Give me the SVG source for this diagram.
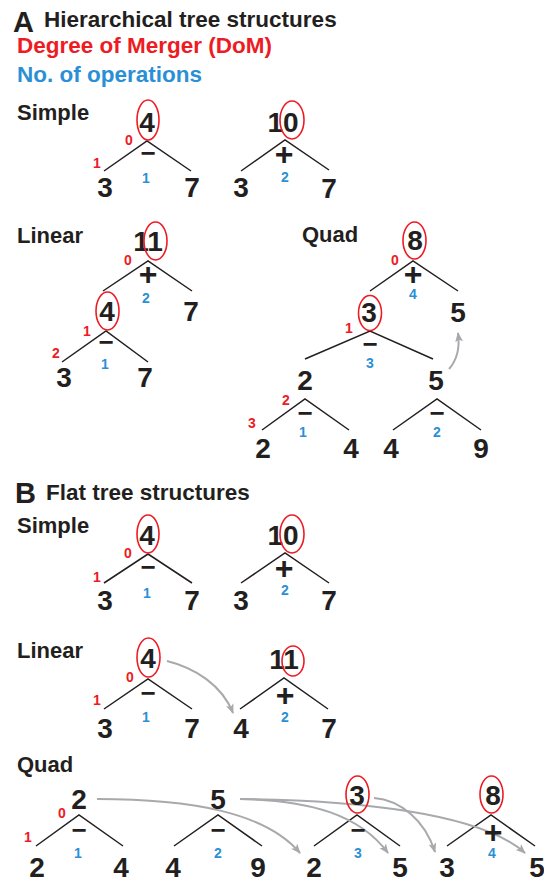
<svg xmlns="http://www.w3.org/2000/svg" width="544" height="881" viewBox="0 0 544 881">
<style>
text{font-family:"Liberation Sans",Arial,sans-serif;font-weight:bold}
.d{font-size:28px;fill:#231f20;text-anchor:middle}
.r{font-size:14px;fill:#ed1c24;text-anchor:middle}
.b{font-size:14px;fill:#2b8fd6;text-anchor:middle}
.mi{font-size:26px;fill:#231f20;text-anchor:middle;dominant-baseline:central}
.pl{font-size:32px;fill:#231f20;text-anchor:middle;dominant-baseline:central}
.lab{font-size:22px;fill:#231f20}
.big{font-size:29px;fill:#231f20}
.hd{font-size:22.5px;fill:#231f20}
.e{fill:none;stroke:#ed1c24;stroke-width:1.6}
.l{stroke:#231f20;stroke-width:1.5;fill:none}
.a{stroke:#a7a9ac;stroke-width:2;fill:none;marker-end:url(#ah)}
</style>
<defs>
<marker id="ah" markerUnits="userSpaceOnUse" markerWidth="12" markerHeight="10" refX="9" refY="4" orient="auto">
<path d="M0,0 L10,4 L0,8 L2.5,4 z" fill="#a7a9ac"/>
</marker>
</defs>
<rect width="544" height="881" fill="#fff"/>

<g id="headings">
<text class="big" x="13" y="32">A</text>
<text class="hd" x="44" y="27">Hierarchical tree structures</text>
<text class="hd" x="17" y="53" style="fill:#ed1c24">Degree of Merger (DoM)</text>
<text class="hd" x="17" y="82" style="fill:#2b8fd6">No. of operations</text>
<text class="lab" x="17" y="120">Simple</text>
<text class="lab" x="17" y="243">Linear</text>
<text class="lab" x="302" y="242">Quad</text>
<text class="big" x="15" y="503">B</text>
<text class="hd" x="46" y="500">Flat tree structures</text>
<text class="lab" x="17" y="533">Simple</text>
<text class="lab" x="17" y="658">Linear</text>
<text class="lab" x="17" y="772">Quad</text>
</g>

<g id="connectors">
<!-- A simple -->
<path class="l" d="M104,171 L147,141 L191,171"/>
<path class="l" d="M241,171 L285,140 L329,170"/>
<!-- A linear -->
<path class="l" d="M103,291 L148,261 L192,291"/>
<path class="l" d="M62,362 L106,331 L148,362"/>
<!-- A quad -->
<path class="l" d="M370,291 L413,261 L458,291"/>
<path class="l" d="M305,359 L370,331 L433,359"/>
<path class="l" d="M262,430 L305,399 L349,430"/>
<path class="l" d="M393,430 L437,399 L481,430"/>
<path class="a" d="M449,369 C457,360 460,348 458,333"/>
<!-- B simple -->
<path class="l" d="M104,583 L148,554 L192,583"/>
<path class="l" d="M241,583 L285,553 L329,583"/>
<!-- B linear -->
<path class="l" d="M104,709 L148,679 L192,709"/>
<path class="l" d="M240,709 L284,678 L328,709"/>
<path class="a" d="M167,661 C195,668 222,685 233,713"/>
<!-- B quad -->
<path class="l" d="M36,846 L79,815 L123,846"/>
<path class="l" d="M174,846 L218,815 L262,846"/>
<path class="l" d="M314,846 L357,815 L400,846"/>
<path class="l" d="M447,846 L491,815 L535,846"/>
<path class="a" d="M97,799 C190,799 265,812 300,853"/>
<path class="a" d="M240,799 C310,800 360,815 388,853"/>
<path class="a" d="M240,799 C350,800 480,812 525,853"/>
<path class="a" d="M374,798 C400,800 425,820 435,852"/>
</g>

<g id="A-simple-1">
<text class="d" x="147" y="132">4</text><ellipse class="e" cx="148" cy="120" rx="11" ry="20"/>
<text class="mi" x="148" y="153">−</text>
<text class="r" x="129" y="145">0</text><text class="r" x="97" y="168">1</text><text class="b" x="146" y="183">1</text>
<text class="d" x="105" y="197">3</text><text class="d" x="192" y="197">7</text>
</g>
<g id="A-simple-2">
<text class="d" x="283" y="132">10</text><ellipse class="e" cx="292" cy="120" rx="12" ry="19"/>
<text class="pl" x="284" y="154">+</text>
<text class="b" x="285" y="182">2</text>
<text class="d" x="241" y="197">3</text><text class="d" x="329" y="198">7</text>
</g>

<g id="A-linear">
<text class="d" x="148" y="251">11</text><ellipse class="e" cx="155.5" cy="241" rx="11.5" ry="19"/>
<text class="pl" x="148" y="274">+</text>
<text class="r" x="128" y="265">0</text><text class="b" x="146" y="303">2</text>
<text class="d" x="191" y="321">7</text>
<text class="d" x="107" y="321">4</text><ellipse class="e" cx="107.5" cy="311" rx="11.5" ry="19"/>
<text class="mi" x="106" y="342">−</text>
<text class="r" x="87" y="336">1</text><text class="r" x="56" y="358">2</text><text class="b" x="105" y="369">1</text>
<text class="d" x="64" y="387">3</text><text class="d" x="145" y="387">7</text>
</g>

<g id="A-quad">
<text class="d" x="415" y="250">8</text><ellipse class="e" cx="414.5" cy="240.5" rx="11.5" ry="18.5"/>
<text class="pl" x="413" y="274">+</text>
<text class="r" x="395" y="265">0</text><text class="b" x="413" y="299">4</text>
<text class="d" x="369" y="322">3</text><ellipse class="e" cx="370" cy="313" rx="11.5" ry="17.5"/>
<text class="d" x="458" y="322">5</text>
<text class="mi" x="370" y="344">−</text>
<text class="r" x="349" y="333">1</text><text class="b" x="370" y="368">3</text>
<text class="d" x="305" y="390">2</text><text class="d" x="436" y="390">5</text>
<text class="mi" x="305" y="413">−</text>
<text class="r" x="286" y="405">2</text><text class="r" x="252" y="428">3</text><text class="b" x="303" y="437">1</text>
<text class="d" x="263" y="458">2</text><text class="d" x="351" y="458">4</text>
<text class="mi" x="437" y="413">−</text>
<text class="b" x="437" y="437">2</text>
<text class="d" x="391" y="458">4</text><text class="d" x="481" y="458">9</text>
</g>

<g id="B-simple-1">
<text class="d" x="147" y="545">4</text><ellipse class="e" cx="148" cy="534" rx="11" ry="19"/>
<text class="mi" x="148" y="567">−</text>
<text class="r" x="128" y="558">0</text><text class="r" x="97" y="582">1</text><text class="b" x="147" y="598">1</text>
<text class="d" x="105" y="610">3</text><text class="d" x="192" y="610">7</text>
</g>
<g id="B-simple-2">
<text class="d" x="283" y="545">10</text><ellipse class="e" cx="292" cy="534" rx="12" ry="19"/>
<text class="pl" x="284" y="568">+</text>
<text class="b" x="285" y="595">2</text>
<text class="d" x="241" y="610">3</text><text class="d" x="329" y="610">7</text>
</g>

<g id="B-linear-1">
<text class="d" x="148" y="668">4</text><ellipse class="e" cx="148.5" cy="657.5" rx="11.5" ry="19.5"/>
<text class="mi" x="148" y="693">−</text>
<text class="r" x="130" y="682">0</text><text class="r" x="97" y="705">1</text><text class="b" x="146" y="722">1</text>
<text class="d" x="105" y="738">3</text><text class="d" x="192" y="738">7</text>
</g>
<g id="B-linear-2">
<text class="d" x="284" y="669">11</text><ellipse class="e" cx="293" cy="661" rx="11" ry="15"/>
<text class="pl" x="285" y="695">+</text>
<text class="b" x="285" y="722">2</text>
<text class="d" x="241" y="738">4</text><text class="d" x="329" y="738">7</text>
</g>

<g id="B-quad-1">
<text class="d" x="79" y="809">2</text>
<text class="mi" x="79" y="830">−</text>
<text class="r" x="62" y="818">0</text><text class="r" x="28" y="842">1</text><text class="b" x="78" y="858">1</text>
<text class="d" x="37" y="877">2</text><text class="d" x="121" y="877">4</text>
</g>
<g id="B-quad-2">
<text class="d" x="218" y="809">5</text>
<text class="mi" x="218" y="830">−</text>
<text class="b" x="218" y="858">2</text>
<text class="d" x="173" y="877">4</text><text class="d" x="258" y="877">9</text>
</g>
<g id="B-quad-3">
<text class="d" x="357" y="805">3</text><ellipse class="e" cx="357.5" cy="794.5" rx="11.5" ry="18.5"/>
<text class="mi" x="358" y="830">−</text>
<text class="b" x="358" y="858">3</text>
<text class="d" x="314" y="877">2</text><text class="d" x="400" y="877">5</text>
</g>
<g id="B-quad-4">
<text class="d" x="493" y="805">8</text><ellipse class="e" cx="491.5" cy="794.5" rx="11.5" ry="18.5"/>
<text class="pl" x="493" y="832">+</text>
<text class="b" x="492" y="858">4</text>
<text class="d" x="447" y="877">3</text><text class="d" x="537" y="877">5</text>
</g>
</svg>
